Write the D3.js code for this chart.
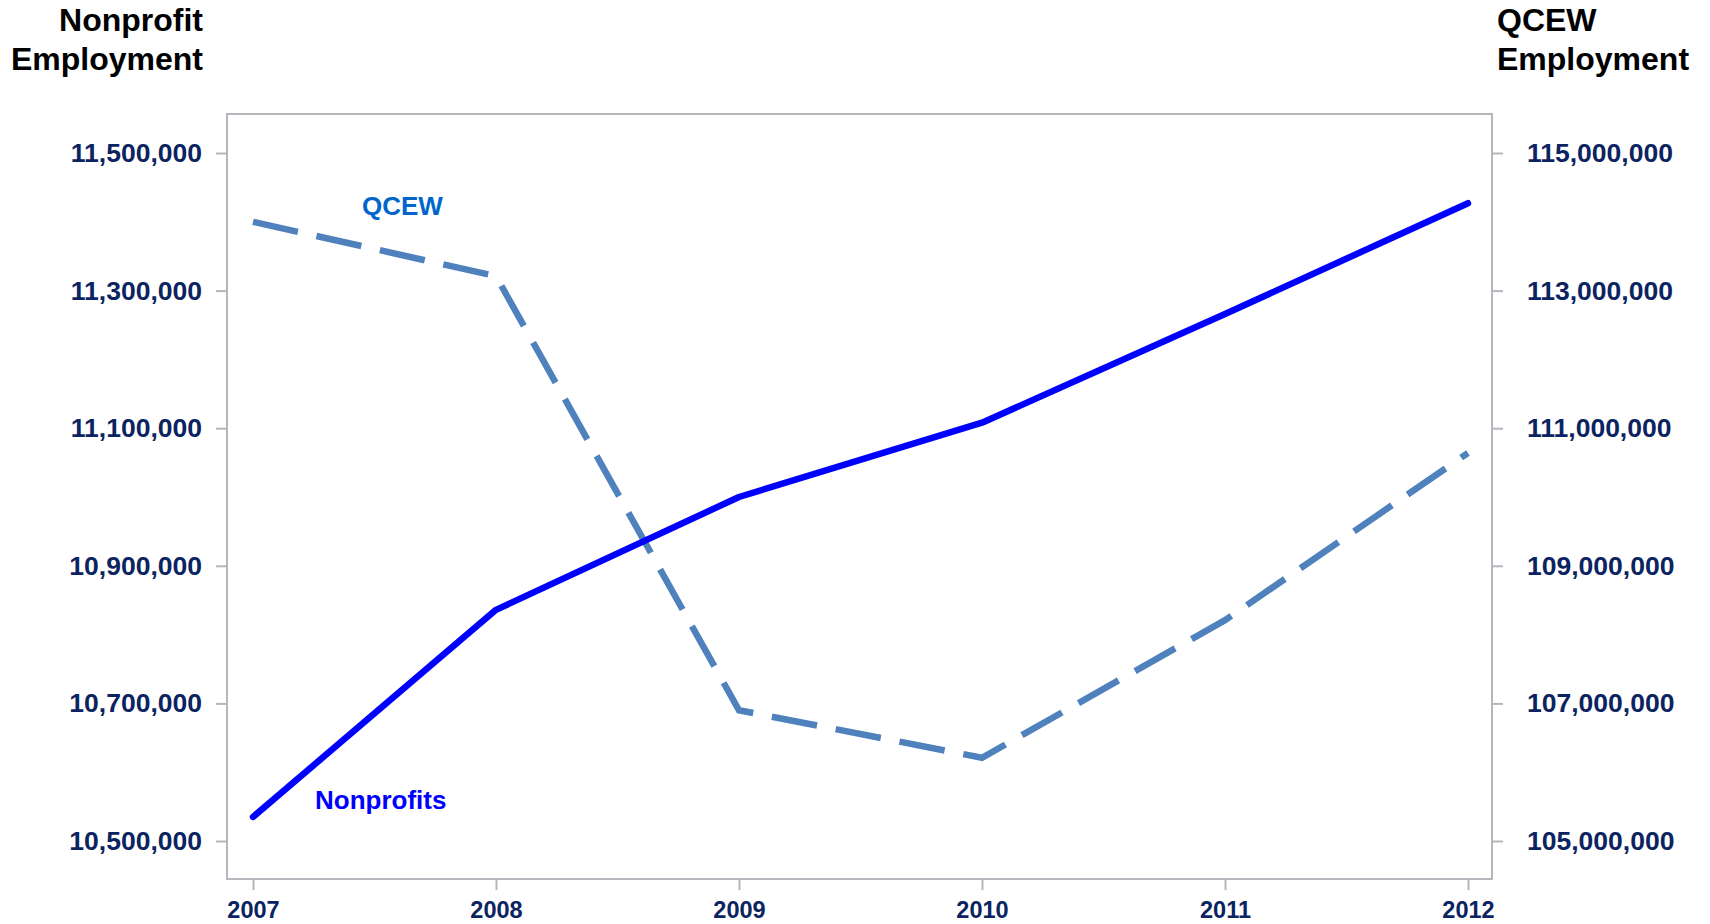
<!DOCTYPE html>
<meta charset="utf-8">
<style>

body { margin: 0; background: #fff; font-family: Arial, "Liberation Sans", sans-serif; }

.axis path,
.axis line {
  fill: none;
  stroke: #b4b7bb;
  stroke-width: 2;
}

.axis text {
  fill: #0b2461;
  font-weight: bold;
  font-size: 26.5px;
  font-family: Arial, "Liberation Sans", sans-serif;
}

.x.axis text { font-size: 23.5px; }

.title {
  font-weight: bold;
  font-size: 32px;
  fill: #000;
}

.line {
  fill: none;
  stroke-width: 6.5;
}

</style>
<body>

<script src="https://d3js.org/d3.v7.min.js"></script>

<script>

var years = [2007, 2008, 2009, 2010, 2011, 2012];
var nonprofits = [10535000, 10836000, 11000000, 11108000, 11266000, 11427000];
var qcew = [114000000, 113210000, 106900000, 106210000, 108210000, 110640000];
var leftTicks = [10500000, 10700000, 10900000, 11100000, 11300000, 11500000];
var rightTicks = [105000000, 107000000, 109000000, 111000000, 113000000, 115000000];

var margin = {top: 114, right: 218, bottom: 45, left: 227},
  width = 1710 - margin.left - margin.right,
  height = 924 - margin.top - margin.bottom;

var x = d3.scaleLinear().domain([2007, 2012]).range([26, 1241]);
var yL = d3.scaleLinear().domain([10500000, 11500000]).range([727, 39]);
var yR = d3.scaleLinear().domain([105000000, 115000000]).range([727, 39]);

var fmt = d3.format(",");

var svg = d3.select("body")
  .append("svg")
    .attr("width", 1710)
    .attr("height", 924)
  .append("g")
    .attr("transform", "translate(" + margin.left + "," + margin.top + ")");

// plot frame
svg.append("rect")
  .attr("width", width)
  .attr("height", height)
  .attr("fill", "none")
  .attr("stroke", "#b4b7bb")
  .attr("stroke-width", 2);

svg.append("g")
  .attr("class", "x axis")
  .attr("transform", "translate(0," + height + ")")
  .call(d3.axisBottom(x).tickValues(years).tickFormat(d3.format("d")).tickSize(11).tickPadding(11).tickSizeOuter(0))
  .call(function(g) { g.select(".domain").remove(); });

svg.append("g")
  .attr("class", "y axis")
  .call(d3.axisLeft(yL).tickValues(leftTicks).tickFormat(fmt).tickSize(11).tickPadding(14))
  .call(function(g) { g.select(".domain").remove(); });

svg.append("g")
  .attr("class", "y axis")
  .attr("transform", "translate(" + width + ",0)")
  .call(d3.axisRight(yR).tickValues(rightTicks).tickFormat(fmt).tickSize(11).tickPadding(24))
  .call(function(g) { g.select(".domain").remove(); });

var lineL = d3.line()
  .x(function(d, i) { return x(years[i]); })
  .y(function(d) { return yL(d); });

var lineR = d3.line()
  .x(function(d, i) { return x(years[i]); })
  .y(function(d) { return yR(d); });

svg.append("path")
  .datum(qcew)
  .attr("class", "line")
  .attr("stroke", "#4f81bd")
  .attr("stroke-dasharray", "46,19")
  .attr("d", lineR);

svg.append("path")
  .datum(nonprofits)
  .attr("class", "line")
  .attr("stroke", "#0000ff")
  .attr("stroke-linejoin", "round")
  .attr("stroke-linecap", "round")
  .attr("d", lineL);

// series labels
svg.append("text")
  .attr("x", 135).attr("y", 101)
  .attr("fill", "#0066cc")
  .style("font-weight", "bold").style("font-size", "26px")
  .text("QCEW");

svg.append("text")
  .attr("x", 88).attr("y", 695)
  .attr("fill", "#0000ff")
  .style("font-weight", "bold").style("font-size", "26px")
  .text("Nonprofits");

// axis titles
var root = d3.select("svg");

var lt = root.append("text").attr("class", "title").attr("text-anchor", "end");
lt.append("tspan").attr("x", 203).attr("y", 31).text("Nonprofit");
lt.append("tspan").attr("x", 203).attr("y", 70).text("Employment");

var rt = root.append("text").attr("class", "title");
rt.append("tspan").attr("x", 1497).attr("y", 31).text("QCEW");
rt.append("tspan").attr("x", 1497).attr("y", 70).text("Employment");

</script>
</body>
